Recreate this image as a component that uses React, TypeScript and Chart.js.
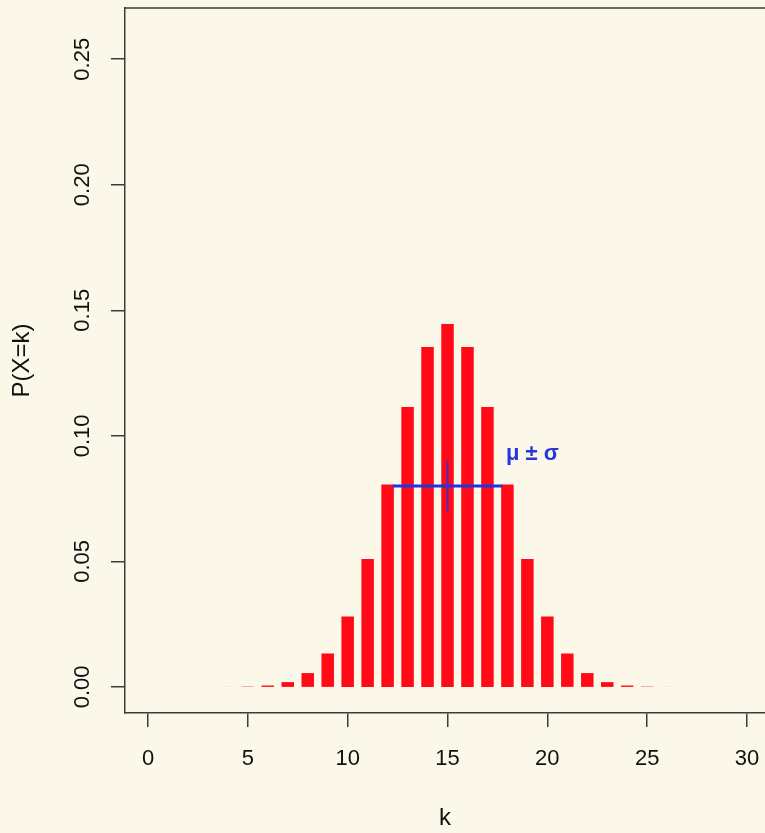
import React, { useEffect, useRef } from "react";
import { Chart, registerables } from "chart.js";

Chart.register(...registerables);

const K_VALUES = [0, 1, 2, 3, 4, 5, 6, 7, 8, 9, 10, 11, 12, 13, 14, 15, 16, 17, 18, 19, 20, 21, 22, 23, 24, 25, 26, 27, 28, 29, 30];
const PROBS = [
  0.0000000009, 0.000000028, 0.0000004, 0.0000038, 0.000025, 0.00013, 0.00055, 0.0019, 0.0055, 0.0133,
  0.028, 0.0509, 0.0806, 0.1115, 0.1354, 0.1445, 0.1354, 0.1115, 0.0806, 0.0509,
  0.028, 0.0133, 0.0055, 0.0019, 0.00055, 0.00013, 0.000025, 0.0000038, 0.0000004, 0.000000028, 0.0000000009,
];
const X_TICKS = [0, 5, 10, 15, 20, 25, 30];
const Y_TICKS = [0, 0.05, 0.1, 0.15, 0.2, 0.25];
const MU = 15;
const SIGMA = 2.74;
const BAR_Y = 0.08;
const MU_MARK = [0.07, 0.09];
const ANNOT_TEXT = "μ ± σ";
const ANNOT_POS = [19.25, 0.0927];
const X_TITLE = "k";
const Y_TITLE = "P(X=k)";

const FONT = "'Liberation Sans', Arial, Helvetica, sans-serif";
const BG = "#fcf8e9";
const AXIS = "#3c3c3c";

export default function App() {
  const ref = useRef<HTMLCanvasElement | null>(null);

  useEffect(() => {
    const canvas = ref.current;
    if (!canvas) return;

    const bgPlugin = {
      id: "bg",
      beforeDraw(chart: any) {
        const ctx = chart.ctx;
        ctx.save();
        ctx.fillStyle = BG;
        ctx.fillRect(0, 0, chart.width, chart.height);
        ctx.restore();
      },
    };

    const extrasPlugin = {
      id: "extras",
      afterDraw(chart: any) {
        const ctx = chart.ctx;
        const { left, right, top } = chart.chartArea;
        ctx.save();
        ctx.strokeStyle = AXIS;
        ctx.lineWidth = 1.5;
        ctx.beginPath();
        ctx.moveTo(left, top);
        ctx.lineTo(right, top);
        ctx.stroke();
        const xs = chart.scales.x;
        const ys = chart.scales.y;
        ctx.fillStyle = "#2536dc";
        ctx.font = `bold 22px ${FONT}`;
        ctx.textAlign = "center";
        ctx.textBaseline = "middle";
        ctx.fillText(ANNOT_TEXT, xs.getPixelForValue(ANNOT_POS[0]), ys.getPixelForValue(ANNOT_POS[1]));
        ctx.restore();
      },
    };

    const chart = new Chart(canvas, {
      type: "bar",
      data: {
        datasets: [
          {
            type: "bar",
            data: K_VALUES.map((k, i) => ({ x: k, y: PROBS[i] })),
            backgroundColor: "#ff0a16",
            borderWidth: 0,
            inflateAmount: 0,
            barThickness: 12.5,
            base: -1e-12,
            order: 3,
          } as any,
          {
            type: "line",
            data: [
              { x: MU - SIGMA, y: BAR_Y },
              { x: MU + SIGMA, y: BAR_Y },
            ],
            borderColor: "#1f33e0",
            borderWidth: 3,
            pointRadius: 0,
            order: 1,
          } as any,
          {
            type: "line",
            data: [
              { x: MU, y: MU_MARK[0] },
              { x: MU, y: MU_MARK[1] },
            ],
            borderColor: "#4a2cc4",
            borderWidth: 2,
            pointRadius: 0,
            order: 0,
          } as any,
        ],
      },
      options: {
        responsive: false,
        animation: false,
        events: [],
        layout: { padding: { top: 8, right: 0, left: 0, bottom: 0 } },
        plugins: { legend: { display: false }, tooltip: { enabled: false } },
        scales: {
          x: {
            type: "linear",
            offset: false,
            min: -1.152,
            max: 30.9,
            afterBuildTicks: (s: any) => {
              s.ticks = X_TICKS.map((v) => ({ value: v }));
            },
            afterFit: (s: any) => {
              s.height = 120;
              s.paddingLeft = 0;
              s.paddingRight = 0;
            },
            grid: {
              display: true,
              offset: false,
              drawOnChartArea: false,
              drawTicks: true,
              tickLength: 14,
              color: AXIS,
              lineWidth: 1.5,
            },
            border: { display: true, color: AXIS, width: 1.5 },
            ticks: {
              color: "#111",
              font: { family: FONT, size: 22 },
              padding: 19,
              maxRotation: 0,
              callback: (v: any) => String(v),
            },
            title: {
              display: true,
              text: X_TITLE,
              color: "#111",
              font: { family: FONT, size: 24 },
              padding: { top: 0, bottom: 0 },
            },
          },
          y: {
            type: "linear",
            min: -0.0104,
            max: 0.2704,
            afterBuildTicks: (s: any) => {
              s.ticks = Y_TICKS.map((v) => ({ value: v }));
            },
            afterFit: (s: any) => {
              s.width = 125;
              s.paddingTop = 0;
              s.paddingBottom = 0;
            },
            grid: {
              display: true,
              drawOnChartArea: false,
              drawTicks: true,
              tickLength: 14,
              color: AXIS,
              lineWidth: 1.5,
            },
            border: { display: true, color: AXIS, width: 1.5 },
            ticks: {
              color: "#111",
              font: { family: FONT, size: 22 },
              padding: 7,
              minRotation: 90,
              maxRotation: 90,
              crossAlign: "center",
              callback: (v: any) => Number(v).toFixed(2),
            },
            title: {
              display: true,
              text: Y_TITLE,
              color: "#111",
              font: { family: FONT, size: 24 },
              padding: { top: 8, bottom: 0 },
            },
          },
        },
      },
      plugins: [bgPlugin, extrasPlugin],
    } as any);

    return () => chart.destroy();
  }, []);

  return (
    <div style={{ position: "absolute", left: 0, top: 0, width: 765, height: 833, overflow: "hidden", background: BG }}>
      <canvas ref={ref} width={765} height={833} style={{ display: "block" }} />
    </div>
  );
}
